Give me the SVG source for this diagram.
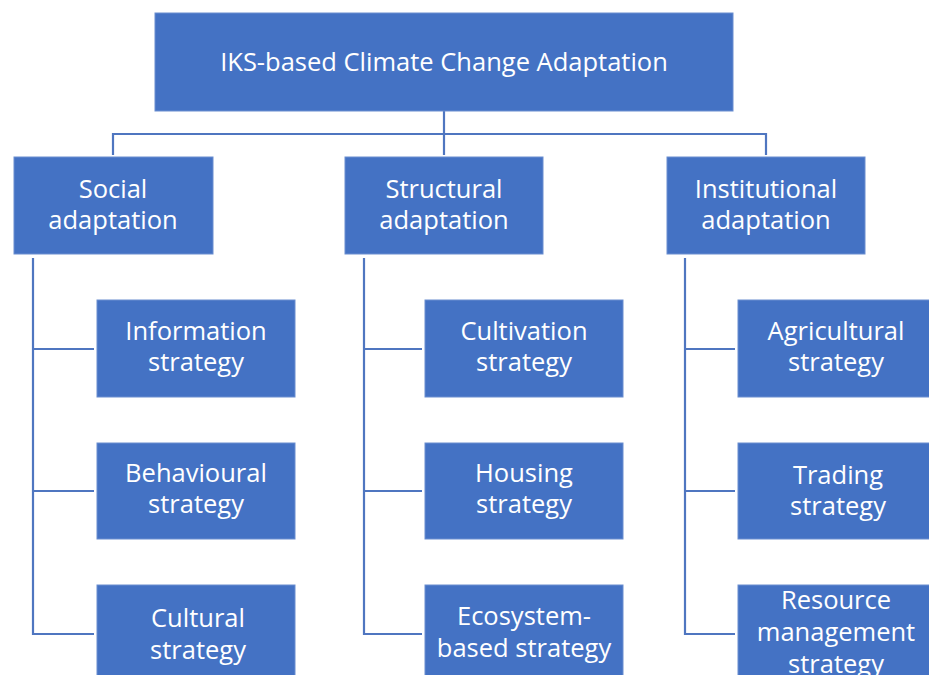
<svg xmlns="http://www.w3.org/2000/svg" width="929" height="675" viewBox="0 0 929 675">
<style>
.box{fill:#4472C4;stroke:#6A8ED0;stroke-width:1}
.t{font-family:"Open Sans",Lato,"Liberation Sans",sans-serif;font-size:25.5px;fill:#FFFFFF;text-anchor:middle}
.c{fill:none;stroke:#4F76C0;stroke-width:2.2}
</style>
<rect width="929" height="675" fill="#FFFFFF"/>
<g id="connectors">
<path class="c" d="M444 111 V155 M113 155 V134 H766 V155"/>
<path class="c" d="M33 258 V634 H94 M33 349 H94 M33 491 H94"/>
<path class="c" d="M364 258 V634 H422 M364 349 H422 M364 491 H422"/>
<path class="c" d="M685 258 V634 H735 M685 349 H735 M685 491 H735"/>
</g>
<g id="root"><rect class="box" x="155" y="13" width="578" height="98"/><text class="t" x="444" y="71">IKS-based Climate Change Adaptation</text></g>
<g id="social"><rect class="box" x="14" y="157" width="199" height="97"/><text class="t" x="113" y="198">Social</text><text class="t" x="113" y="229">adaptation</text></g>
<g id="structural"><rect class="box" x="345" y="157" width="198" height="97"/><text class="t" x="444" y="198">Structural</text><text class="t" x="444" y="229">adaptation</text></g>
<g id="institutional"><rect class="box" x="667" y="157" width="198" height="97"/><text class="t" x="766" y="198">Institutional</text><text class="t" x="766" y="229">adaptation</text></g>
<g id="information"><rect class="box" x="97" y="300" width="198" height="97"/><text class="t" x="196" y="340">Information</text><text class="t" x="196" y="371">strategy</text></g>
<g id="behavioural"><rect class="box" x="97" y="443" width="198" height="96"/><text class="t" x="196" y="482">Behavioural</text><text class="t" x="196" y="513">strategy</text></g>
<g id="cultural"><rect class="box" x="97" y="585" width="198" height="100"/><text class="t" x="198" y="627">Cultural</text><text class="t" x="198" y="659">strategy</text></g>
<g id="cultivation"><rect class="box" x="425" y="300" width="198" height="97"/><text class="t" x="524" y="340">Cultivation</text><text class="t" x="524" y="371">strategy</text></g>
<g id="housing"><rect class="box" x="425" y="443" width="198" height="96"/><text class="t" x="524" y="482">Housing</text><text class="t" x="524" y="513">strategy</text></g>
<g id="ecosystem"><rect class="box" x="425" y="585" width="198" height="100"/><text class="t" x="524" y="625">Ecosystem-</text><text class="t" x="524" y="657">based strategy</text></g>
<g id="agricultural"><rect class="box" x="738" y="300" width="198" height="97"/><text class="t" x="836" y="340">Agricultural</text><text class="t" x="836" y="371">strategy</text></g>
<g id="trading"><rect class="box" x="738" y="443" width="198" height="96"/><text class="t" x="838" y="484">Trading</text><text class="t" x="838" y="515">strategy</text></g>
<g id="resource"><rect class="box" x="738" y="585" width="198" height="100"/><text class="t" x="836" y="609">Resource</text><text class="t" x="836" y="641">management</text><text class="t" x="836" y="673">strategy</text></g>
</svg>
